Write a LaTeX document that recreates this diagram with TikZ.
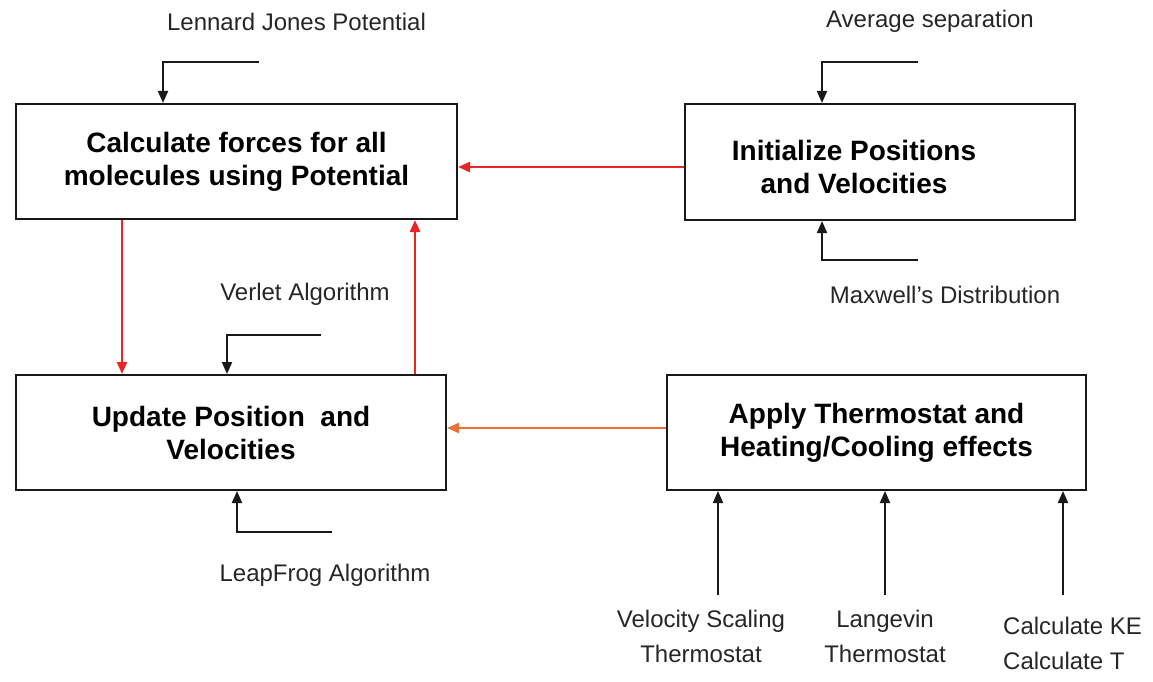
\documentclass[tikz,border=0pt]{standalone}
\usepackage{fontspec}
\setmainfont{Liberation Sans}
\usetikzlibrary{arrows.meta}
\definecolor{redln}{RGB}{232,38,38}
\definecolor{orangeln}{RGB}{238,112,50}
\begin{document}
\begin{tikzpicture}[x=1pt,y=-1pt,
  box/.style={draw=black!90,line width=2pt,inner sep=0pt,align=center,
    font=\fontsize{28}{33}\selectfont\bfseries},
  boxtext/.style={inner sep=0pt,align=center,font=\fontsize{28}{33}\selectfont\bfseries},
  lbl/.style={font=\fontsize{24}{35}\selectfont,text=black!85,inner sep=0pt,align=center},
  arr/.style={line width=2pt,draw=black!90,-{Triangle[length=12pt,width=10pt]}},
  redarr/.style={line width=2.4pt,draw=redln,-{Triangle[length=12pt,width=10pt]}},
  orarr/.style={line width=2.4pt,draw=orangeln,-{Triangle[length=12pt,width=10pt]}}]
\useasboundingbox (0,0) rectangle (1153,682);

% boxes
\node[box,minimum width=441pt,minimum height=115pt] (calc) at (236.5,161.5)
  {Calculate forces for all\\molecules using Potential};
\node[box,minimum width=390pt,minimum height=116pt] (init) at (880,162) {};
\node[boxtext] (inittxt) at (854,166.5) {Initialize Positions\\and Velocities};
\node[box,minimum width=430pt,minimum height=115pt] (upd) at (231,432.5)
  {Update Position~ and\\Velocities};
\node[box,minimum width=419pt,minimum height=115pt] (app) at (876.5,432.5)
  {Apply Thermostat and\\Heating/Cooling effects};

% labels
\node[lbl] (lj) at (296.5,22) {Lennard Jones Potential};
\node[lbl] (avg) at (930,21) {Average separation};
\node[lbl] (mx) at (945,295) {Maxwell’s Distribution};
\node[lbl] (vl) at (305,294) {Verlet Algorithm};
\node[lbl] (lf) at (325,575) {LeapFrog Algorithm};
\node[lbl] (vs) at (701,636) {Velocity Scaling\\Thermostat};
\node[lbl] (lg) at (885,636) {Langevin\\Thermostat};
\node[lbl,align=left,anchor=west] (ke) at (1003,643) {Calculate KE\\Calculate T};

% free ends of the input brackets
\coordinate (ljs) at (259,62);
\coordinate (ljx) at (163,0);
\coordinate (avs) at (918,62);
\coordinate (ivx) at (822,0);
\coordinate (mxs) at (918,260);
\coordinate (vls) at (321,335);
\coordinate (vlx) at (227,0);
\coordinate (lfs) at (332,532);
\coordinate (lfx) at (237,0);
\coordinate (vss) at (718,595);
\coordinate (lgs) at (885,595);
\coordinate (kes) at (1063,595);
\coordinate (r1) at (122,0);
\coordinate (r2) at (415,0);
\coordinate (h1) at (0,167);
\coordinate (h2) at (0,428);

% black input connectors
\draw[arr] (ljs) -| (ljx |- calc.north);
\draw[arr] (avs) -| (ivx |- init.north);
\draw[arr] (mxs) -| (ivx |- init.south);
\draw[arr] (vls) -| (vlx |- upd.north);
\draw[arr] (lfs) -| (lfx |- upd.south);
\draw[arr] (vss) -- (vss |- app.south);
\draw[arr] (lgs) -- (lgs |- app.south);
\draw[arr] (kes) -- (kes |- app.south);

% flow connectors
\draw[redarr] (r1 |- calc.south) -- (r1 |- upd.north);
\draw[redarr] (r2 |- upd.north) -- (r2 |- calc.south);
\draw[redarr] (init.west |- h1) -- (calc.east |- h1);
\draw[orarr] (app.west |- h2) -- (upd.east |- h2);
\end{tikzpicture}
\end{document}
